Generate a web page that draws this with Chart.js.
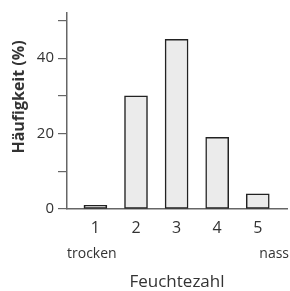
<!DOCTYPE html>
<html>
<head>
<meta charset="utf-8">
<script src="https://cdn.jsdelivr.net/npm/chart.js@4"></script>
<style>
  html, body { margin: 0; padding: 0; background: #fff; }
  #wrap { width: 290px; height: 291px; }
</style>
</head>
<body>
<div id="wrap"><canvas id="chart" width="290" height="291"></canvas></div>
<script>
const feuchtezahl = [1, 2, 3, 4, 5];
const haeufigkeit = [1, 30, 45, 19, 4];
const yTicks = [0, 10, 20, 30, 40, 50];
const yTitle = 'Häufigkeit (%)';
const xTitle = 'Feuchtezahl';
const endLabels = ['trocken', 'nass'];

const FONT = "'Open Sans', sans-serif";
const TEXT = '#333';
const AXIS = '#666';

// draws the y title and the "trocken" / "nass" hints under the x axis
const extraText = {
    id: 'extraText',
    afterDraw(chart) {
        const {ctx, chartArea} = chart;
        ctx.save();
        ctx.fillStyle = TEXT;
        ctx.font = '14px ' + FONT;
        ctx.textBaseline = 'middle';
        ctx.textAlign = 'left';
        ctx.fillText(endLabels[0], chartArea.left, 254);
        ctx.textAlign = 'right';
        ctx.fillText(endLabels[1], chart.width - 1, 254);

        ctx.translate(19, 97);
        ctx.rotate(-Math.PI / 2);
        ctx.textAlign = 'center';
        ctx.font = 'bold 16px ' + FONT;
        ctx.fillText(yTitle, 0, 0);
        ctx.restore();
    }
};

new Chart(document.getElementById('chart'), {
    type: 'bar',
    data: {
        labels: feuchtezahl,
        datasets: [{
            data: haeufigkeit,
            backgroundColor: '#ebebeb',
            borderColor: '#222',
            borderWidth: 1.5,
            borderSkipped: false,
            barThickness: 23
        }]
    },
    options: {
        responsive: false,
        animation: false,
        layout: { padding: { top: 12, right: 3, bottom: 0, left: 0 } },
        plugins: {
            legend: { display: false },
            tooltip: { enabled: false }
        },
        scales: {
            x: {
                type: 'linear',
                offset: false,
                min: 0.3,
                max: 5.72,
                afterBuildTicks: (scale) => { scale.ticks = feuchtezahl.map(v => ({value: v})); },
                afterFit: (scale) => { scale.height = 82; },
                grid: { display: false },
                border: { display: true, color: AXIS, width: 1.5 },
                ticks: {
                    color: TEXT,
                    font: { family: FONT, size: 16 },
                    padding: 2,
                    maxRotation: 0
                },
                title: {
                    display: true,
                    text: xTitle,
                    color: TEXT,
                    font: { family: FONT, size: 17, weight: '500', lineHeight: 1 },
                    padding: { top: 0, bottom: 0 }
                }
            },
            y: {
                min: 0,
                max: 52,
                afterBuildTicks: (scale) => { scale.ticks = yTicks.map(v => ({value: v})); },
                afterFit: (scale) => { scale.width = 67; },
                grid: {
                    drawOnChartArea: false,
                    drawTicks: true,
                    tickLength: 9,
                    color: AXIS,
                    lineWidth: 1.2
                },
                border: { display: true, color: AXIS, width: 1.5 },
                ticks: {
                    color: TEXT,
                    font: { family: FONT, size: 15 },
                    padding: 4,
                    callback: (v) => (v % 20 === 0 ? v : '')
                }
            }
        }
    },
    plugins: [extraText]
});
</script>
</body>
</html>
